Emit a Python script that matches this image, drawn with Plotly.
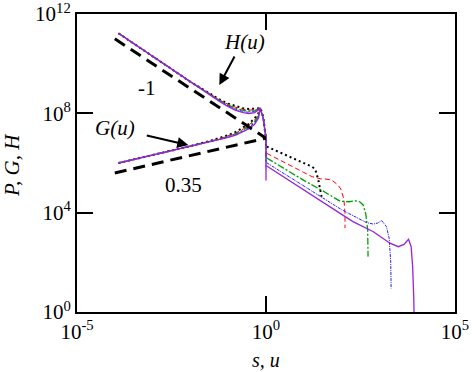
import numpy as np
import plotly.graph_objects as go

# ---- data (log10 values) ----
u_log = [-3.9, -3.5, -3.0, -2.5, -2.0, -1.5, -1.2, -1.0, -0.8, -0.6, -0.45, -0.3, -0.2, -0.15, -0.07, -0.03, 0.0, 0.0]

H_black  = [11.22, 10.81, 10.30, 9.77, 9.27, 8.81, 8.53, 8.39, 8.28, 8.20, 8.17, 8.17, 8.20, 8.22, 7.85, 7.30, 7.05, 6.55]
H_red    = [11.22, 10.81, 10.30, 9.77, 9.27, 8.80, 8.51, 8.36, 8.24, 8.16, 8.13, 8.14, 8.18, 8.21, 7.82, 7.28, 7.02, 6.25]
H_green  = [11.22, 10.81, 10.30, 9.77, 9.27, 8.79, 8.49, 8.33, 8.20, 8.12, 8.09, 8.11, 8.16, 8.20, 7.80, 7.25, 7.00, 6.00]
H_blue   = [11.22, 10.81, 10.30, 9.77, 9.27, 8.78, 8.47, 8.30, 8.16, 8.07, 8.04, 8.07, 8.14, 8.19, 7.78, 7.22, 6.97, 5.75]
H_purple = [11.22, 10.81, 10.30, 9.77, 9.27, 8.77, 8.45, 8.27, 8.12, 8.03, 7.99, 8.03, 8.12, 8.19, 7.75, 7.20, 6.95, 5.30]

g_log = [-3.9, -3.5, -3.0, -2.5, -2.0, -1.5, -1.2, -1.0, -0.8, -0.6, -0.45, -0.3, -0.2, -0.15]
G_black  = [6.00, 6.14, 6.32, 6.49, 6.68, 6.88, 7.01, 7.12, 7.25, 7.42, 7.58, 7.80, 8.00, 8.22]
G_red    = [6.00, 6.14, 6.32, 6.49, 6.68, 6.87, 6.99, 7.09, 7.21, 7.37, 7.53, 7.74, 7.95, 8.21]
G_green  = [6.00, 6.14, 6.32, 6.49, 6.67, 6.86, 6.97, 7.07, 7.18, 7.33, 7.48, 7.68, 7.90, 8.20]
G_blue   = [6.00, 6.14, 6.32, 6.49, 6.67, 6.85, 6.96, 7.05, 7.15, 7.29, 7.43, 7.62, 7.85, 8.19]
G_purple = [6.00, 6.14, 6.32, 6.49, 6.67, 6.85, 6.95, 7.03, 7.12, 7.25, 7.38, 7.56, 7.80, 8.19]

Ps_black  = [0.02, 0.5, 1.0, 1.22, 1.30, 1.38, 1.47]
P_black   = [6.66, 6.33, 6.00, 5.85, 5.75, 5.35, 4.64]
Ps_red    = [0.02, 0.5, 1.0, 1.22, 1.45, 1.56, 1.74, 1.90, 1.98, 2.06, 2.09, 2.09]
P_red     = [6.39, 6.00, 5.62, 5.45, 5.36, 5.36, 5.31, 5.12, 4.95, 4.55, 4.00, 3.38]
Ps_green  = [0.02, 0.5, 1.0, 1.5, 1.96, 2.2, 2.35, 2.48, 2.57, 2.64, 2.69, 2.70]
P_green   = [6.20, 5.76, 5.30, 4.88, 4.46, 4.44, 4.48, 4.44, 4.31, 3.95, 3.30, 2.23]
Ps_blue   = [0.02, 0.5, 1.0, 1.5, 2.0, 2.3, 2.66, 2.84, 2.95, 3.06, 3.19, 3.26, 3.30, 3.31]
P_blue    = [6.01, 5.55, 5.08, 4.61, 4.12, 3.88, 3.60, 3.54, 3.58, 3.68, 3.43, 2.95, 2.00, 0.95]
Ps_purple = [0.02, 0.5, 1.0, 1.5, 1.96, 2.3, 2.84, 3.28, 3.5, 3.65, 3.77, 3.84, 3.88, 3.91, 3.92]
P_purple  = [5.88, 5.40, 4.92, 4.43, 3.97, 3.64, 3.23, 2.77, 2.63, 2.72, 2.93, 2.63, 1.82, 0.50, -0.50]

ref_u = [-4.0, 0.0]
ref_m1 = [11.0, 7.0]      # slope -1
ref_035 = [5.6, 7.0]      # slope 0.35

x_ticks = [-5, 0, 5]
y_ticks = [0, 4, 8, 12]

series = [
    ("black", dict(color="black", width=2, dash="2px,3px"), H_black, G_black, Ps_black, P_black),
    ("red", dict(color="#ff0000", width=1, dash="5px,3px"), H_red, G_red, Ps_red, P_red),
    ("green", dict(color="#00a000", width=1.3, dash="7px,2px,2px,2px"), H_green, G_green, Ps_green, P_green),
    ("blue", dict(color="#2020ff", width=1, dash="3px,1px,1px,1px"), H_blue, G_blue, Ps_blue, P_blue),
    ("purple", dict(color="#9a22dd", width=1.3), H_purple, G_purple, Ps_purple, P_purple),
]

def p10(a):
    return np.power(10.0, np.array(a, dtype=float))

fig = go.Figure()

for name, ln, H, G, Ps, P in series:
    fig.add_trace(go.Scatter(x=p10(u_log), y=p10(H), mode="lines", line=ln, name=name + " H"))
    fig.add_trace(go.Scatter(x=p10(g_log), y=p10(G), mode="lines", line=ln, name=name + " G"))
    fig.add_trace(go.Scatter(x=p10(Ps), y=p10(P), mode="lines", line=ln, name=name + " P"))

dash_ln = dict(color="black", width=3, dash="12px,7px")
fig.add_trace(go.Scatter(x=p10(ref_u), y=p10(ref_m1), mode="lines", line=dash_ln))
fig.add_trace(go.Scatter(x=p10(ref_u), y=p10(ref_035), mode="lines", line=dash_ln))

serif = "Liberation Serif"
ann = []
ann.append(dict(x=-1.235, y=9.14, xref="x", yref="y", ax=16, ay=-30, showarrow=True,
                arrowhead=2, arrowsize=1.1, arrowwidth=2, arrowcolor="black", text=""))
ann.append(dict(x=-2.056, y=6.72, xref="x", yref="y", ax=-43, ay=-10, showarrow=True,
                arrowhead=2, arrowsize=1.1, arrowwidth=2, arrowcolor="black", text=""))
for txt, x, y in [("<i>H(u)</i>", -0.556, 10.88), ("<i>G(u)</i>", -3.995, 7.40),
                  ("-1", -3.156, 9.01), ("0.35", -2.188, 5.11)]:
    ann.append(dict(x=x, y=y, xref="x", yref="y", text=txt, showarrow=False,
                    xanchor="center", yanchor="middle", font=dict(family=serif, size=21, color="black")))
# axis titles placed in pixel-equivalent paper coordinates
ann.append(dict(x=(266 - 77) / 378, y=-(360 - 312) / 298, xref="paper", yref="paper",
                text="<i>s, u</i>", showarrow=False, xanchor="center", yanchor="middle",
                font=dict(family=serif, size=20, color="black")))
ann.append(dict(x=-(77 - 12) / 378, y=(312 - 165) / 298, xref="paper", yref="paper",
                text="<i>P, G, H</i>", showarrow=False, xanchor="center", yanchor="middle",
                textangle=-90, font=dict(family=serif, size=21, color="black")))

fig.update_layout(
    width=472, height=372,
    margin=dict(l=77, r=17, t=14, b=60, autoexpand=False),
    paper_bgcolor="white", plot_bgcolor="white",
    showlegend=False,
    annotations=ann,
    font=dict(family=serif, size=20, color="black"),
)
common = dict(
    ticks="inside", ticklen=16, tickwidth=1.5, tickcolor="black",
    showline=True, linewidth=2, linecolor="black", mirror="ticks",
    showgrid=False, zeroline=False, automargin=False,
    ticklabeloverflow="allow",
    tickfont=dict(family=serif, size=21, color="black"),
)
fig.update_xaxes(
    type="log", range=[-5, 5],
    tickvals=[10.0 ** v for v in x_ticks],
    ticktext=["10<sup>%d</sup>" % v for v in x_ticks],
    **common,
)
fig.update_yaxes(
    type="log", range=[0, 12],
    tickvals=[10.0 ** v for v in y_ticks],
    ticktext=["10<sup>%d</sup>" % v for v in y_ticks],
    **common,
)

fig.write_html("out.html", config={"displayModeBar": False},
               post_script="document.body.style.margin='0px';document.body.style.padding='0px';")
